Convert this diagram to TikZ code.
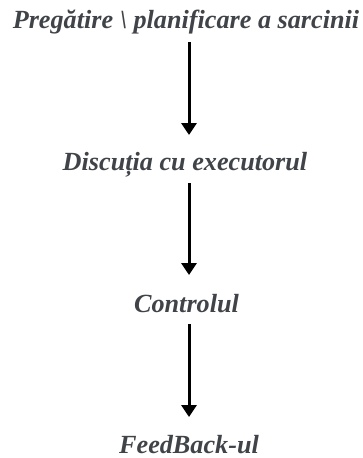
\documentclass[tikz,border=0pt]{standalone}
\usepackage{fontspec}
\setmainfont{Liberation Serif}
\usetikzlibrary{arrows.meta}
\definecolor{txtgray}{RGB}{64,68,72}
\tikzset{
  lbl/.style={anchor=base, inner sep=0pt, text=txtgray, font=\fontsize{26.2}{30}\selectfont\bfseries\itshape},
  conn/.style={line width=3pt, -{Triangle[width=15pt,length=12pt]}}
}
\begin{document}
\begin{tikzpicture}[x=1pt,y=1pt]
\useasboundingbox (0,0) rectangle (362,-458);
\node[lbl] (t1) at (186,-28) {Pregătire \textbackslash{} planificare a sarcinii};
\node[lbl] (t2) at (185,-170) {Discuția cu executorul};
\node[lbl] (t3) at (186.5,-312) {Controlul};
\node[lbl] (t4) at (189,-453) {FeedBack-ul};
\coordinate (a1s) at (189,-42);
\coordinate (a1e) at (189,-135);
\coordinate (a2s) at (189,-183);
\coordinate (a2e) at (189,-275);
\coordinate (a3s) at (189,-324);
\coordinate (a3e) at (189,-417);
\draw[conn] (a1s) -- (a1e);
\draw[conn] (a2s) -- (a2e);
\draw[conn] (a3s) -- (a3e);
\end{tikzpicture}
\end{document}
